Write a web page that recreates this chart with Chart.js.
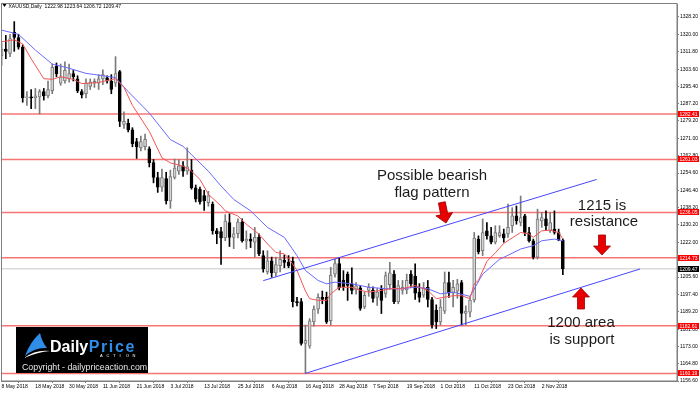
<!DOCTYPE html>
<html>
<head>
<meta charset="utf-8">
<script src="https://cdn.jsdelivr.net/npm/chart.js@4.4.0/dist/chart.umd.min.js"></script>
<style>
  html, body { margin: 0; padding: 0; background: #fff; }
  #wrap { width: 700px; height: 393px; position: relative; }
</style>
</head>
<body>
<div id="wrap"><canvas id="xauChart"></canvas></div>
<script>
// XAUUSD daily candles, 8 May 2018 -> 9 Nov 2018 (bar index 0..133)
const opens = [1310,1313,1311,1321,1318.5,1314,1290,1290.5,1290,1290.5,1293,1291,1293.5,1305,1297,1298,1299,1301.5,1299,1293,
  1292,1295.5,1297,1297,1299,1299.5,1298,1297,1302.5,1277.5,1278,1275,1269.5,1266.5,1267,1266,1259.5,1252.5,1248,1252,
  1241.5,1252.5,1255.5,1258,1255.5,1256,1247.7,1247,1244,1240.7,1240,1227.4,1227,1224,1231.3,1224.3,1226,1231.5,1222.5,1223.5,
  1222,1224.3,1215.7,1208,1213.3,1207.5,1211,1213.5,1212.6,1213,1194,1194,1174.3,1173,1184.5,1190.5,1196,1196,1185,1207,
  1212,1204,1207,1202.4,1199.5,1200.5,1191.5,1199.3,1199.5,1196,1200,1197.7,1202,1207,1194,1199.3,1199.5,1207,1206,1198.5,
  1197,1200.8,1195,1190,1184.5,1189.5,1203,1198,1199,1203,1188.5,1189,1194.8,1223.5,1218,1227.4,1225,1222,1225.1,1226,
  1225.9,1229.7,1234.4,1231.3,1234.4,1226.6,1222.7,1215,1232.1,1233,1227.4,1228.2,1226.6,1222.98];
const highs = [1316,1319.5,1320,1326,1320,1315,1293,1294,1294.5,1294,1294.5,1298,1306,1306.5,1306,1307,1306,1303,1300.5,1294,
  1299,1299,1299,1301,1303.3,1300.5,1301,1309.5,1303,1283.5,1280,1276,1271,1272,1273,1267,1261,1255,1256.5,1255,
  1256,1261.2,1261,1260,1266.5,1261,1249,1248,1246.5,1246,1241,1228.5,1229,1235,1235.4,1229,1233,1233,1227.4,1226,
  1229,1226,1218,1218,1215,1215,1218,1216,1215.7,1215,1196,1195.5,1183,1186,1192,1197.7,1199,1198.5,1210.2,1214,
  1214.9,1208.6,1208,1210,1203,1201.6,1198.5,1202.5,1201,1200.2,1201.6,1208,1212.5,1208.7,1204,1204,1207,1208.6,1211.8,1202.5,
  1203,1204,1196,1192.5,1195,1208,1207.9,1204,1204.5,1204,1192,1196,1226.6,1225,1233,1231.3,1229,1229.8,1229.8,1228.2,
  1240,1238.3,1239.1,1243.8,1235.2,1229,1223.5,1237.6,1236,1236.8,1236,1236.8,1228.2,1223.64];
const lows = [1305.5,1308.5,1309.5,1312,1313,1288,1286.5,1285,1285,1282.5,1289,1290,1292,1300,1296,1297,1297.5,1298,1292.5,1290,
  1290,1294,1295,1294,1296.3,1297,1292,1295.4,1276.5,1275.7,1274,1267,1261.5,1265,1265.5,1257.5,1250,1245.5,1246,1240,
  1238,1251.8,1254,1253,1254,1247,1241,1240,1237,1239,1225.8,1221.3,1211.5,1222.7,1220,1219,1224,1222,1218.8,1219.5,
  1215,1215.7,1207.9,1207,1205.5,1206,1208,1210,1210,1191.5,1192,1173.5,1160.2,1172,1182.5,1188.5,1193,1183.7,1183,1205.5,
  1199.5,1199.3,1194.6,1197.7,1197.5,1189.9,1190.7,1196.5,1193.8,1192.2,1188.4,1196,1199.8,1193,1193,1197.5,1197.7,1200.8,1195,1193.8,
  1196,1191.5,1181.5,1181.3,1183,1188.4,1196,1191.5,1195.6,1183,1183,1186.8,1193.8,1216.5,1215.7,1223.5,1221.2,1221.2,1224.3,1222,
  1224.3,1226.6,1230.5,1229.7,1225.1,1222,1214.1,1214.1,1229,1227.4,1226.6,1225.8,1222.7,1206.72];
const closes = [1313,1312,1318,1318.5,1314,1290,1290.5,1290,1291,1293,1291,1294,1304.5,1301.5,1300,1303,1301.5,1300,1293.5,1291.5,
  1297,1297.5,1297.8,1299,1301,1298,1294,1301.5,1279,1279,1275,1268.5,1267,1269.5,1270.5,1259.5,1252.5,1248,1252.5,1241.5,
  1253,1257,1258,1255.5,1257.5,1247.7,1242.3,1241,1241.5,1244,1227.4,1226,1224,1232,1224.3,1226,1231.5,1222.7,1223.5,1222.5,
  1224.3,1216.5,1209.4,1213.3,1207.5,1211.5,1214,1212.5,1211,1194,1193.5,1174.3,1175.8,1185,1190.5,1196,1195,1184.5,1206.5,1212,
  1200.5,1201,1201.6,1199.3,1201.5,1190.8,1197,1200.8,1195.5,1198.5,1194.6,1206.3,1207.6,1194,1201.6,1200.8,1204,1202.4,1198,1196,
  1200.5,1195,1183,1184.5,1191.5,1203,1198,1200.8,1202.4,1188.5,1189.5,1194.8,1224,1217.5,1226.6,1225.1,1222,1226.6,1226.6,1224,
  1229,1234.4,1232.1,1233.6,1226.6,1222.7,1215,1232.9,1233.6,1229.7,1231.3,1226.6,1223,1209.47];

// moving averages (bar index / price)
const redMaBars   = [0,3,5,7,10,12,14,17,19,23,27,29,31,35,38,40,43,45,47,49,52,53,56,58,61,63,65,67,68,70,72,73,75,77,78,80,83,85,87,90,92,95,98,101,103,105,107,109,111,112,113,115,117,119,123,125,126,128,130,132,133];
const redMaValues = [1316.5,1317.4,1315.5,1308.5,1299.1,1298.8,1300,1298.8,1296.8,1297.3,1299.1,1295,1286.5,1274.3,1261.8,1259.4,1257.9,1255.5,1251.6,1244.6,1239.1,1236.8,1234.4,1230.5,1225.8,1221.2,1217.2,1216.5,1214.5,1208.7,1199,1195.4,1194.6,1194.6,1197.7,1200.8,1200.8,1199.3,1198.5,1199.3,1200.1,1200.1,1201.6,1199.3,1195.4,1196.1,1196.8,1196.8,1195.4,1202.4,1204,1213,1217,1221.5,1226.6,1225.9,1224.3,1227.4,1227.7,1226.6,1223.5];
const blueMaBars   = [0,4,8,12,16,20,24,27,30,35,40,43,45,49,52,55,59,63,67,70,72,75,77,79,83,87,91,95,98,101,104,107,111,114,115,118,119,123,126,128,131,133];
const blueMaValues = [1322,1320,1312.6,1306,1304,1301.6,1300.5,1299.6,1293,1282.9,1270.4,1267.2,1263.3,1255.5,1248.5,1242.2,1236.8,1229,1224.3,1215.7,1208.7,1204,1202.4,1203.2,1202.4,1200.8,1200.1,1200.1,1200.8,1200.1,1197.7,1198.5,1196.5,1207,1208.7,1214,1214.9,1218.8,1220.4,1222.7,1223.5,1222.7];

// channel trend lines (bar index / price at each end)
const upperChannel = [[62, 1203.9], [141, 1251.6]];
const lowerChannel = [[72, 1160.2], [151.3, 1209.4]];

// horizontal levels and last price
const levels = [1282.41, 1261.03, 1236.05, 1214.73, 1182.61, 1160.19];
const lastPrice = 1209.47;

// axis ticks
const yTicks = [1156.60,1164.80,1173.00,1181.00,1189.20,1197.40,1205.60,1213.80,1222.00,1230.20,1238.20,1246.40,1254.60,1262.80,1271.00,1279.20,1287.20,1295.40,1303.60,1311.80,1320.00,1328.20];
const xTickBars = [0,8,16,24,32,40,48,56,64,72,80,88,96,104,112,120,128];
const xTickLabels = ['8 May 2018','18 May 2018','30 May 2018','11 Jun 2018','21 Jun 2018','3 Jul 2018','13 Jul 2018','25 Jul 2018','6 Aug 2018','16 Aug 2018','28 Aug 2018','7 Sep 2018','19 Sep 2018','1 Oct 2018','11 Oct 2018','23 Oct 2018','2 Nov 2018'];

const FONT = '"Liberation Sans", Arial, sans-serif';
Chart.defaults.font.family = FONT;

const isUp = opens.map((o, i) => closes[i] >= o);
const X_MIN = -0.142, X_MAX = 160.05;

function hLine(v) {
  return [{ x: X_MIN - 1, y: v }, { x: X_MAX + 1, y: v }];
}
function lineSet(data, color, width, order) {
  return { type: 'line', data, borderColor: color, borderWidth: width, pointRadius: 0, fill: false, tension: 0, order };
}

function drawArrow(ctx, x, y, len, dir, angle) {
  ctx.save();
  ctx.translate(x, y);
  ctx.rotate(angle || 0);
  if (dir < 0) ctx.scale(1, -1);
  const hw = 8.5, hh = 9, sw = 3.5;
  ctx.beginPath();
  ctx.moveTo(0, 0);
  ctx.lineTo(-hw, -hh); ctx.lineTo(-sw, -hh); ctx.lineTo(-sw, -len);
  ctx.lineTo(sw, -len); ctx.lineTo(sw, -hh); ctx.lineTo(hw, -hh);
  ctx.closePath();
  ctx.fillStyle = '#e80000';
  ctx.fill();
  ctx.strokeStyle = '#a00000';
  ctx.lineWidth = 0.8;
  ctx.stroke();
  ctx.restore();
}

function priceTag(ctx, yScale, value, bg) {
  const y = Math.round(yScale.getPixelForValue(value));
  ctx.fillStyle = bg;
  ctx.fillRect(678, y - 3, 21, 6);
  ctx.fillStyle = '#fff';
  ctx.font = '5px ' + FONT;
  ctx.textAlign = 'left';
  ctx.textBaseline = 'middle';
  ctx.fillText(value.toFixed(2), 679.5, y + 0.3);
}

const overlay = {
  id: 'overlay',
  afterDraw(chart) {
    const { ctx, chartArea: a, scales } = chart;
    ctx.save();

    // frame
    ctx.strokeStyle = '#7f7f7f';
    ctx.lineWidth = 1;
    ctx.strokeRect(a.left + 0.5, a.top - 0.5, a.right - a.left - 0.5, a.bottom - a.top + 0.5);

    // header
    ctx.fillStyle = '#000';
    ctx.beginPath();
    ctx.moveTo(2.5, 4); ctx.lineTo(6.5, 4); ctx.lineTo(4.5, 7); ctx.closePath(); ctx.fill();
    ctx.font = '5px ' + FONT;
    ctx.textBaseline = 'alphabetic';
    ctx.textAlign = 'left';
    ctx.fillText('XAUUSD,Daily  1222.98 1223.64 1206.72 1209.47', 8.5, 7.5);

    // price tags on the right scale
    levels.forEach(v => priceTag(ctx, scales.y, v, '#ff0000'));
    priceTag(ctx, scales.y, lastPrice, '#000');

    // annotation text
    ctx.fillStyle = '#1c1c1c';
    ctx.font = '15px ' + FONT;
    ctx.textBaseline = 'alphabetic';
    ctx.textAlign = 'center';
    ctx.fillText('Possible bearish', 432, 180);
    ctx.fillText('flag pattern', 432, 197);
    ctx.fillText('1215 is', 602, 210);
    ctx.fillText('resistance', 604, 226);
    ctx.fillText('1200 area', 581, 327);
    ctx.fillText('is support', 582, 344);

    // arrows
    drawArrow(ctx, 446, 223, 21, 1, -0.2);
    drawArrow(ctx, 602, 255, 20, 1, 0);
    drawArrow(ctx, 581, 288, 21, -1, 0);

    // logo block
    ctx.textAlign = 'left';
    ctx.fillStyle = '#000';
    ctx.fillRect(16, 327, 132, 46);
    ctx.fillStyle = '#2f8fe8';
    ctx.beginPath();
    ctx.moveTo(25, 356);
    ctx.quadraticCurveTo(30, 342, 40, 333);
    ctx.quadraticCurveTo(42, 342, 47, 348);
    ctx.quadraticCurveTo(35, 347, 25, 356);
    ctx.fill();
    ctx.fillStyle = '#fff';
    ctx.beginPath();
    ctx.moveTo(24, 358);
    ctx.quadraticCurveTo(36, 349, 50, 351);
    ctx.quadraticCurveTo(38, 352, 24, 358);
    ctx.fill();
    ctx.font = 'bold 16px ' + FONT;
    ctx.fillStyle = '#fff';
    ctx.fillText('Daily', 50, 352);
    const w = ctx.measureText('Daily').width;
    ctx.fillStyle = '#2f8fe8';
    ctx.letterSpacing = '1.6px';
    ctx.fillText('Price', 50 + w + 0.5, 352);
    ctx.letterSpacing = '0px';
    ctx.fillStyle = '#fff';
    ctx.font = '4px ' + FONT;
    'ACTION'.split('').forEach((c, k) => ctx.fillText(c, 100 + k * 6.5, 357));
    ctx.font = '8.8px ' + FONT;
    ctx.fillStyle = '#e8e8e8';
    ctx.fillText('Copyright - dailypriceaction.com', 22, 370);

    ctx.restore();
  }
};

const ctx = document.getElementById('xauChart').getContext('2d');
new Chart(ctx, {
  type: 'bar',
  data: {
    datasets: [
      lineSet(upperChannel.map(p => ({ x: p[0], y: p[1] })), '#4646ff', 1, 1),
      lineSet(lowerChannel.map(p => ({ x: p[0], y: p[1] })), '#4646ff', 1, 1),
      lineSet(redMaBars.map((b, k) => ({ x: b, y: redMaValues[k] })), '#f25555', 1, 2),
      lineSet(blueMaBars.map((b, k) => ({ x: b, y: blueMaValues[k] })), '#6868ff', 1, 2),
      {
        // candle bodies
        type: 'bar',
        data: opens.map((o, i) => ({ x: i, y: [o, closes[i]] })),
        backgroundColor: isUp.map(u => u ? '#d6d6d6' : '#000'),
        borderColor: isUp.map(u => u ? '#7a7a7a' : '#000'),
        borderWidth: 1,
        borderSkipped: false,
        barThickness: 3,
        minBarLength: 1,
        grouped: false,
        order: 3
      },
      {
        // wicks
        type: 'bar',
        data: lows.map((l, i) => ({ x: i, y: [l, highs[i]] })),
        backgroundColor: isUp.map(u => u ? '#7a7a7a' : '#000'),
        borderWidth: 0,
        barThickness: 1,
        grouped: false,
        order: 4
      },
      ...levels.map(v => lineSet(hLine(v), 'rgba(245,70,70,0.75)', 1.5, 5)),
      lineSet(hLine(lastPrice), '#c8c8c8', 1, 5)
    ]
  },
  options: {
    responsive: true,
    maintainAspectRatio: false,
    animation: false,
    devicePixelRatio: 1,
    layout: { padding: { left: 1, top: 2, right: 0, bottom: 0 } },
    plugins: { legend: { display: false }, tooltip: { enabled: false } },
    scales: {
      x: {
        type: 'linear',
        min: X_MIN,
        max: X_MAX,
        offset: false,
        grid: { drawOnChartArea: false, drawTicks: true, tickLength: 2, color: '#7f7f7f' },
        border: { display: true, color: '#7f7f7f' },
        ticks: {
          align: 'start',
          padding: 1,
          autoSkip: false,
          maxRotation: 0,
          color: '#000',
          font: { size: 5 },
          callback: v => xTickLabels[xTickBars.indexOf(v)]
        },
        afterBuildTicks: s => { s.ticks = xTickBars.map(v => ({ value: v })); },
        afterFit: s => { s.height = 12; }
      },
      y: {
        type: 'linear',
        position: 'right',
        min: 1156.6,
        max: 1334.3,
        grid: { drawOnChartArea: false, drawTicks: true, tickLength: 2, color: '#7f7f7f' },
        border: { display: true, color: '#7f7f7f' },
        ticks: {
          padding: 1,
          autoSkip: false,
          color: '#000',
          font: { size: 5 },
          callback: v => Number(v).toFixed(2)
        },
        afterBuildTicks: s => { s.ticks = yTicks.map(v => ({ value: v })); },
        afterFit: s => { s.width = 23; }
      }
    }
  },
  plugins: [overlay]
});
</script>
</body>
</html>
